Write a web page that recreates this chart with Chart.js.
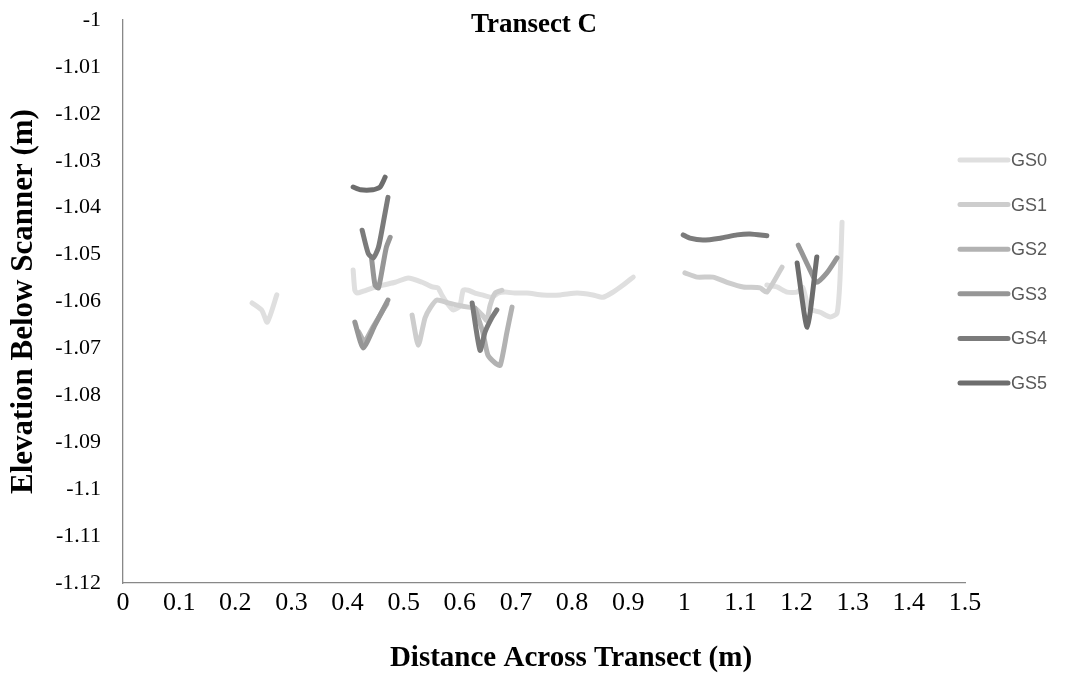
<!DOCTYPE html>
<html>
<head>
<meta charset="utf-8">
<script src="https://cdn.jsdelivr.net/npm/chart.js@4/dist/chart.umd.min.js"></script>
<style>
  html, body { margin: 0; padding: 0; background: #fff; }
  #wrap { position: relative; width: 1065px; height: 679px; }
</style>
</head>
<body>
<div id="wrap"><canvas id="chart" width="1065" height="679"></canvas></div>
<script>
// --- data (null = break in the line) ---
const seriesNames = ['GS0', 'GS1', 'GS2', 'GS3', 'GS4', 'GS5'];
const seriesColors = ['#dfdfdf', '#cdcdcd', '#b2b2b2', '#969696', '#7b7b7b', '#6d6d6d'];

const gs0X = [0.230, 0.247, 0.257, 0.274, null,
  0.410, 0.413, 0.417, 0.428, 0.445, 0.463, 0.485, 0.508, 0.533, 0.551, 0.561, 0.568, 0.577, 0.588, 0.600,
  0.606, 0.615, 0.627, 0.640, 0.657, 0.668, 0.681, 0.698, 0.720, 0.748, 0.779, 0.809, 0.837, 0.855, 0.873,
  0.891, 0.909, null,
  1.147, 1.165, 1.183, 1.201, 1.211, 1.222, 1.242, 1.260, 1.272, 1.277, 1.281];
const gs0Y = [-1.0603, -1.0618, -1.0644, -1.0586, null,
  -1.0533, -1.0576, -1.0582, -1.0578, -1.0571, -1.0565, -1.0559, -1.0550, -1.0559, -1.0569, -1.0571, -1.0586, -1.0603, -1.0618, -1.0610,
  -1.0576, -1.0576, -1.0582, -1.0586, -1.0591, -1.0582, -1.0580, -1.0582, -1.0582, -1.0586, -1.0586, -1.0582, -1.0586, -1.0591, -1.0580,
  -1.0565, -1.0548, null,
  -1.0565, -1.0569, -1.0580, -1.0580, -1.0570, -1.0615, -1.0623, -1.0633, -1.0625, -1.0560, -1.0431];

const gs1X = [0.515, 0.526, 0.538, 0.547, 0.559, 0.579, 0.597, 0.615, 0.627, 0.640, 0.648, 0.654, 0.663, 0.675, null,
  1.001, 1.023, 1.051, 1.076, 1.105, 1.135, 1.147, 1.174];
const gs1Y = [-1.0629, -1.0693, -1.0635, -1.0614, -1.0597, -1.0603, -1.0608, -1.0612, -1.0614, -1.0629, -1.0640, -1.0608, -1.0582, -1.0576, null,
  -1.0539, -1.0548, -1.0548, -1.0559, -1.0569, -1.0571, -1.0580, -1.0527];

const gs2X = [0.420, 0.430, 0.445, 0.460, 0.470, null, 0.627, 0.641, 0.650, 0.663, 0.672, 0.684, 0.693];
const gs2Y = [-1.0665, -1.0685, -1.0655, -1.0625, -1.0605, null, -1.0614, -1.0665, -1.0714, -1.0731, -1.0736, -1.0665, -1.0612];

const gs3X = [0.443, 0.449, 0.455, 0.462, 0.469, 0.476, null, 0.413, 0.428, 0.449, 0.472, null,
  1.203, 1.224, 1.236, 1.254, 1.272];
const gs3Y = [-1.0510, -1.0565, -1.0571, -1.0530, -1.0485, -1.0463, null, -1.0644, -1.0699, -1.0650, -1.0597, null,
  -1.0480, -1.0533, -1.0559, -1.0539, -1.0507];

const gs4X = [0.426, 0.437, 0.446, 0.455, 0.464, 0.472, null, 0.622, 0.636, 0.645, 0.657, 0.666, null,
  0.998, 1.010, 1.033, 1.064, 1.094, 1.117, 1.147];
const gs4Y = [-1.0448, -1.0498, -1.0507, -1.0485, -1.0430, -1.0378, null, -1.0603, -1.0704, -1.0665, -1.0635, -1.0618, null,
  -1.0458, -1.0465, -1.0469, -1.0465, -1.0458, -1.0456, -1.0460];

const gs5X = [0.410, 0.423, 0.445, 0.458, 0.467, null, 1.201, 1.219, 1.236];
const gs5Y = [-1.0356, -1.0362, -1.0362, -1.0356, -1.0335, null, -1.0518, -1.0655, -1.0505];

const xTicks = { min: 0, max: 1.5, step: 0.1 };
const yTicks = { min: -1.12, max: -1, step: 0.01 };

const allX = [gs0X, gs1X, gs2X, gs3X, gs4X, gs5X];
const allY = [gs0Y, gs1Y, gs2Y, gs3Y, gs4Y, gs5Y];

// turn x/y arrays into points; a null keeps the previous x but breaks the line
function toPoints(xs, ys) {
    const pts = [];
    let lastX = xs[0];
    for (let i = 0; i < xs.length; i++) {
        if (xs[i] !== null) lastX = xs[i];
        pts.push({ x: lastX, y: ys[i] });
    }
    return pts;
}

const datasets = seriesNames.map((name, i) => ({
    label: name,
    data: toPoints(allX[i], allY[i]),
    borderColor: seriesColors[i],
    backgroundColor: seriesColors[i],
    borderWidth: 5,
    borderCapStyle: 'round',
    borderJoinStyle: 'round',
    pointRadius: 0,
    showLine: true,
    spanGaps: false,
    tension: 0.2,
    order: seriesNames.length - i
}));

const fmt = v => String(Number(v.toFixed(2)));
const serif = '"Liberation Serif", "Times New Roman", serif';

// chart title over the top of the plot, x-axis title a bit right of centre (as in the original)
const titlePlugin = {
    id: 'texts',
    afterDraw(chart) {
        const ctx = chart.ctx;
        ctx.save();
        ctx.fillStyle = '#000';
        ctx.textAlign = 'center';
        ctx.textBaseline = 'middle';
        ctx.font = 'bold 27px ' + serif;
        ctx.fillText('Transect C', 534, 25);
        ctx.font = 'bold 29px ' + serif;
        ctx.fillText('Distance Across Transect (m)', 571, 659);
        ctx.restore();
    }
};

// legend on the right, drawn from the datasets
const sideLegend = {
    id: 'sideLegend',
    afterDraw(chart) {
        const ctx = chart.ctx;
        ctx.save();
        ctx.font = '18px "Liberation Sans", Arial, sans-serif';
        ctx.textBaseline = 'middle';
        ctx.textAlign = 'left';
        chart.data.datasets.forEach((ds, i) => {
            const y = 160 + i * 44.6;
            ctx.strokeStyle = ds.borderColor;
            ctx.lineWidth = 5;
            ctx.lineCap = 'round';
            ctx.beginPath();
            ctx.moveTo(960, y);
            ctx.lineTo(1008, y);
            ctx.stroke();
            ctx.fillStyle = '#595959';
            ctx.fillText(ds.label, 1011, y + 1);
        });
        ctx.restore();
    }
};

new Chart(document.getElementById('chart'), {
    type: 'scatter',
    data: { datasets },
    plugins: [titlePlugin, sideLegend],
    options: {
        responsive: false,
        animation: false,
        layout: { padding: { left: 0, right: 100, top: 20, bottom: 3 } },
        plugins: { legend: { display: false }, tooltip: { enabled: false } },
        scales: {
            x: {
                type: 'linear',
                min: xTicks.min,
                max: xTicks.max,
                afterFit: s => { s.height = 93; },
                ticks: {
                    stepSize: xTicks.step,
                    padding: 5,
                    color: '#000',
                    font: { family: serif, size: 26 },
                    callback: fmt
                },
                grid: { display: false, drawTicks: false },
                border: { display: true, color: '#888888', width: 1.3 },
                title: { display: false }
            },
            y: {
                type: 'linear',
                min: yTicks.min,
                max: yTicks.max,
                afterFit: s => { s.width = 123; s.paddingTop = 0; s.paddingBottom = 0; },
                ticks: {
                    stepSize: yTicks.step,
                    padding: 22,
                    color: '#000',
                    font: { family: serif, size: 22 },
                    callback: fmt
                },
                grid: { display: false, drawTicks: false },
                border: { display: true, color: '#888888', width: 1.3 },
                title: {
                    display: true,
                    text: 'Elevation Below Scanner (m)',
                    color: '#000',
                    padding: { top: 5, bottom: 0 },
                    font: { family: serif, size: 31, weight: 'bold' }
                }
            }
        }
    }
});
</script>
</body>
</html>
